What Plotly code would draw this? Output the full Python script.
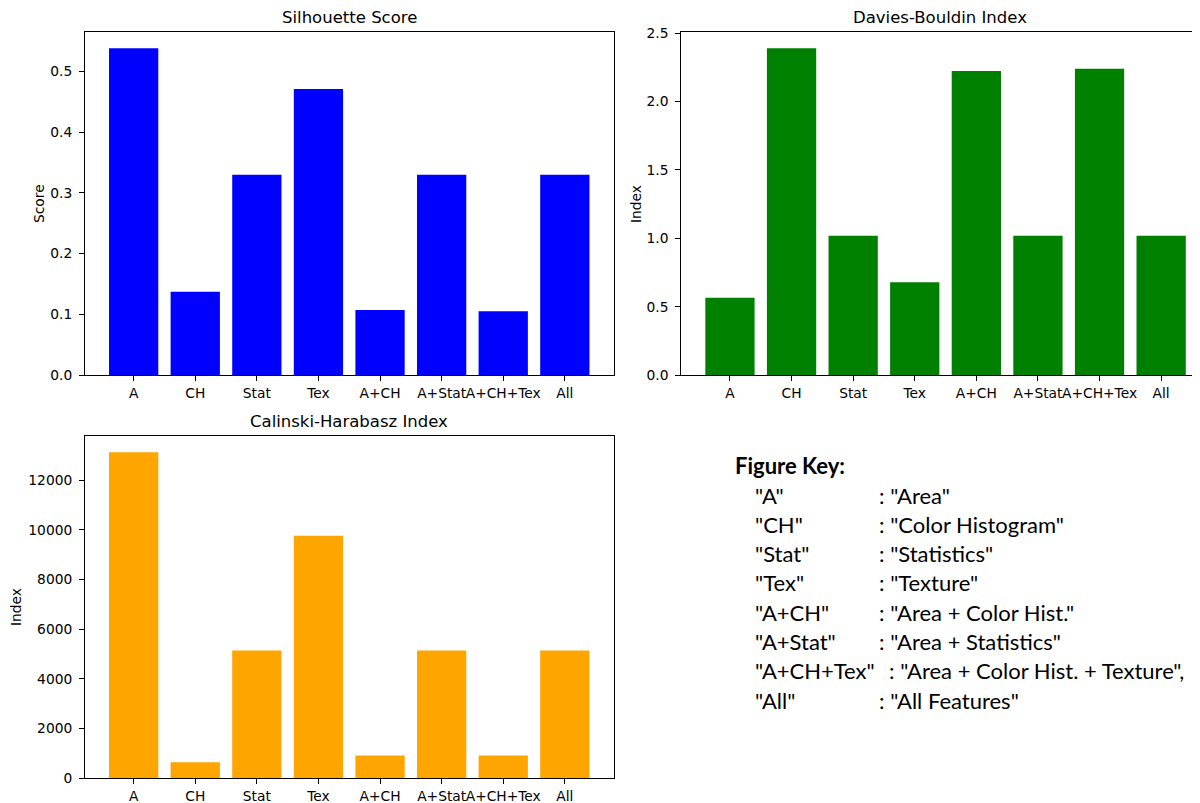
import plotly.graph_objects as go

categories = ["A", "CH", "Stat", "Tex", "A+CH", "A+Stat", "A+CH+Tex", "All"]
silhouette = [0.538, 0.137, 0.330, 0.471, 0.107, 0.330, 0.105, 0.330]
davies_bouldin = [0.565, 2.390, 1.018, 0.679, 2.225, 1.018, 2.240, 1.018]
calinski = [13130, 630, 5140, 9770, 910, 5140, 910, 5140]

key_names = ['"A"', '"CH"', '"Stat"', '"Tex"', '"A+CH"', '"A+Stat"', '"A+CH+Tex"', '"All"']
key_values = [': "Area"', ': "Color Histogram"', ': "Statistics"', ': "Texture"',
              ': "Area + Color Hist."', ': "Area + Statistics"',
              ': "Area + Color Hist. + Texture",', ': "All Features"']

# page body has an 8px margin; work in screen pixels
OFF = 8
W, H = 1200 - OFF, 803 - OFF
def px(x): return (x - OFF) / W
def py(y): return 1 - (y - OFF) / H

fig = go.Figure()
fig.add_trace(go.Bar(x=categories, y=silhouette, marker_color="#0000ff", width=0.8,
                     marker_line_width=0, xaxis="x", yaxis="y", showlegend=False))
fig.add_trace(go.Bar(x=categories, y=davies_bouldin, marker_color="#008000", width=0.8,
                     marker_line_width=0, xaxis="x2", yaxis="y2", showlegend=False))
fig.add_trace(go.Bar(x=categories, y=calinski, marker_color="#ffa500", width=0.8,
                     marker_line_width=0, xaxis="x3", yaxis="y3", showlegend=False))

tickfont = dict(family="DejaVu Sans", size=13.8, color="black")
axis_common = dict(showline=True, linecolor="black", linewidth=1, automargin=False,
                   ticks="outside", ticklen=5, tickcolor="black", showgrid=False,
                   zeroline=False, tickfont=tickfont)

xr = [-0.79, 7.79]
# top-right axes is clipped by the right edge of the picture at the same scale
unit = (613.5 - 85) / (xr[1] - xr[0])
xr2 = [-0.79, -0.79 + (1200 - 681.3) / unit]

fig.update_layout(
    template="none",
    width=W, height=H, margin=dict(l=0, r=0, t=0, b=0, pad=0), autosize=False,
    paper_bgcolor="white", plot_bgcolor="white",
    xaxis=dict(domain=[px(85), px(613.5)], anchor="y", range=xr, type="category",
               mirror=True, tickangle=0, **axis_common),
    yaxis=dict(domain=[py(375), py(32)], anchor="x", range=[0, max(silhouette) * 1.05],
               dtick=0.1, tickformat=".1f", mirror=True, ticklabelstandoff=4, **axis_common),
    xaxis2=dict(domain=[px(681.3), 1], anchor="y2", range=xr2, type="category",
                mirror=True, tickangle=0, **axis_common),
    yaxis2=dict(domain=[py(375), py(32)], anchor="x2", range=[0, max(davies_bouldin) * 1.05],
                dtick=0.5, tickformat=".1f", mirror=False, ticklabelstandoff=4, **axis_common),
    xaxis3=dict(domain=[px(85), px(613.5)], anchor="y3", range=xr, type="category",
                mirror=True, tickangle=0, **axis_common),
    yaxis3=dict(domain=[py(778), py(436)], anchor="x3", range=[0, max(calinski) * 1.05],
                dtick=2000, tickformat="d", mirror=True, ticklabelstandoff=4, **axis_common),
)

title_font = dict(family="DejaVu Sans", size=16.5, color="black")
label_font = dict(family="DejaVu Sans", size=13.8, color="black")
ann = []
ann.append(dict(text="Silhouette Score", x=px(349), y=py(18), font=title_font))
ann.append(dict(text="Davies-Bouldin Index", x=px(940), y=py(18), font=title_font))
ann.append(dict(text="Calinski-Harabasz Index", x=px(349), y=py(421), font=title_font))
ann.append(dict(text="Score", x=px(39), y=py(204), textangle=-90, font=label_font))
ann.append(dict(text="Index", x=px(636), y=py(204), textangle=-90, font=label_font))
ann.append(dict(text="Index", x=px(16), y=py(607), textangle=-90, font=label_font))
for a in ann:
    a.update(xref="paper", yref="paper", showarrow=False, xanchor="center", yanchor="middle")

key_font = dict(family="Lato", size=22, color="black")
ann.append(dict(text="<b>Figure Key:</b>", x=px(733), y=py(465), xref="paper", yref="paper",
                showarrow=False, xanchor="left", yanchor="middle", font=key_font))
for i, (k, v) in enumerate(zip(key_names, key_values)):
    yy = py(495 + i * 29.3)
    colon_x = 887 if k == '"A+CH+Tex"' else 877
    ann.append(dict(text=k, x=px(753), y=yy, xref="paper", yref="paper", showarrow=False,
                    xanchor="left", yanchor="middle", font=key_font))
    ann.append(dict(text=v, x=px(colon_x), y=yy, xref="paper", yref="paper", showarrow=False,
                    xanchor="left", yanchor="middle", font=key_font))
fig.update_layout(annotations=ann)

fig.write_html("out.html")
